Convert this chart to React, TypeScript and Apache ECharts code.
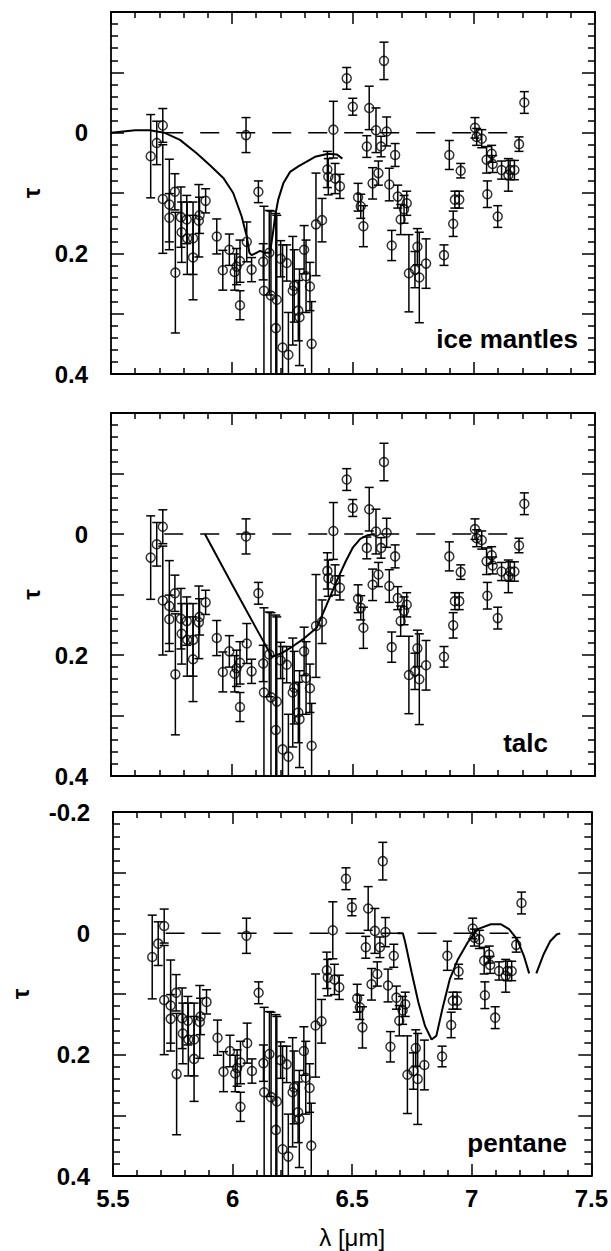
import React, { useEffect, useRef } from 'react';
import * as echarts from 'echarts';

// ---- observed optical depth points (same data set in every panel) ----
const ptX = [
  5.664, 5.689, 5.714, 5.714, 5.741, 5.741, 5.764, 5.766, 5.789, 5.792,
  5.813, 5.815, 5.839, 5.839, 5.863, 5.866, 5.891, 5.937, 5.962, 5.989,
  6.011, 6.019, 6.033, 6.033, 6.058, 6.061, 6.081, 6.109, 6.129, 6.132,
  6.154, 6.161, 6.181, 6.185, 6.201, 6.209, 6.226, 6.233, 6.251, 6.257,
  6.274, 6.279, 6.298, 6.306, 6.322, 6.329, 6.347, 6.372, 6.394, 6.398,
  6.419, 6.426, 6.446, 6.474, 6.499, 6.521, 6.532, 6.543, 6.557, 6.567,
  6.581, 6.595, 6.605, 6.616, 6.628, 6.639, 6.650, 6.660, 6.674, 6.685,
  6.697, 6.711, 6.722, 6.731, 6.756, 6.766, 6.774, 6.802, 6.876, 6.898,
  6.914, 6.921, 6.939, 6.945, 7.004, 7.011, 7.032, 7.052, 7.055, 7.073,
  7.077, 7.098, 7.114, 7.142, 7.149, 7.167, 7.186, 7.208,
];
const ptY = [
  0.039, 0.017, -0.012, 0.110, 0.119, 0.141, 0.098, 0.232, 0.140, 0.165,
  0.144, 0.175, 0.175, 0.207, 0.146, 0.137, 0.113, 0.172, 0.228, 0.194,
  0.231, 0.222, 0.213, 0.286, 0.004, 0.181, 0.227, 0.098, 0.214, 0.262,
  0.199, 0.270, 0.324, 0.277, 0.209, 0.356, 0.216, 0.368, 0.262, 0.254,
  0.295, 0.306, 0.194, 0.238, 0.255, 0.350, 0.152, 0.145, 0.061, 0.073,
  -0.005, 0.076, 0.089, -0.090, -0.043, 0.107, 0.122, 0.155, 0.023, -0.041,
  0.084, -0.004, 0.067, 0.023, -0.119, -0.002, 0.086, 0.187, 0.037, 0.106,
  0.144, 0.127, 0.117, 0.233, 0.227, 0.189, 0.240, 0.217, 0.203, 0.037,
  0.151, 0.111, 0.111, 0.063, -0.008, 0.007, 0.010, 0.045, 0.102, 0.035,
  0.052, 0.139, 0.062, 0.070, 0.062, 0.062, 0.019, -0.050,
];
const ptErr = [
  0.069, 0.036, 0.028, 0.090, 0.075, 0.040, 0.030, 0.100, 0.050, 0.050,
  0.040, 0.060, 0.060, 0.070, 0.060, 0.030, 0.020, 0.029, 0.033, 0.026,
  0.030, 0.030, 0.035, 0.024, 0.029, 0.033, 0.020, 0.018, 0.030, 0.140,
  0.070, 0.140, 0.190, 0.140, 0.030, 0.170, 0.030, 0.070, 0.090, 0.060,
  0.050, 0.080, 0.040, 0.060, 0.040, 0.070, 0.085, 0.036, 0.030, 0.030,
  0.047, 0.025, 0.020, 0.018, 0.014, 0.023, 0.020, 0.034, 0.018, 0.036,
  0.026, 0.037, 0.020, 0.017, 0.031, 0.024, 0.027, 0.025, 0.019, 0.019,
  0.025, 0.023, 0.020, 0.064, 0.030, 0.030, 0.075, 0.041, 0.017, 0.024,
  0.021, 0.014, 0.014, 0.012, 0.017, 0.014, 0.015, 0.022, 0.022, 0.014,
  0.014, 0.018, 0.015, 0.027, 0.016, 0.016, 0.012, 0.018,
];

// ---- model curves ----
const iceX = [
  5.50, 5.55, 5.60, 5.66, 5.72, 5.785, 5.854, 5.909, 5.964, 6.005, 6.040, 6.061,
  6.072, 6.081, 6.102, 6.116, 6.136, 6.157, 6.171, 6.178, 6.191, 6.212, 6.240,
  6.274, 6.343, 6.398, 6.433, 6.456,
];
const iceY = [
  0.000, -0.002, -0.004, -0.004, 0.000, 0.012, 0.034, 0.054, 0.075, 0.100, 0.139, 0.172,
  0.199, 0.203, 0.199, 0.196, 0.199, 0.199, 0.161, 0.139, 0.111, 0.084, 0.065,
  0.056, 0.040, 0.035, 0.036, 0.043,
];
const talcX = [5.888, 6.00, 6.10, 6.165, 6.20, 6.25, 6.30, 6.35, 6.39, 6.43, 6.47, 6.50, 6.53, 6.56, 6.59];
const talcY = [0.000, 0.083, 0.156, 0.203, 0.198, 0.186, 0.172, 0.155, 0.118, 0.080, 0.045, 0.022, 0.008, 0.002, 0.000];
const pentX = [
  6.690, 6.712, 6.722, 6.749, 6.777, 6.805, 6.832, 6.852, 6.880, 6.908, 6.942, 6.983,
  7.025, 7.080, 7.121, 7.156, 7.190, 7.218, 7.240, 7.255, 7.270, 7.300, 7.328, 7.355, 7.370,
];
const pentY: (number | null)[] = [
  0.000, 0.000, 0.015, 0.065, 0.114, 0.153, 0.175, 0.169, 0.120, 0.076, 0.043, 0.015,
  -0.007, -0.015, -0.015, -0.007, 0.010, 0.037, 0.066, null, 0.066, 0.035, 0.013, 0.002, 0.000,
];

// ---- reference (tau = 0) dashed line ----
const zeroX = [5.72, 7.18];
const zeroY = [0, 0];

const panelNames = ['ice mantles', 'talc', 'pentane'];
const xRange = [5.5, 7.5];
const yRange = [-0.2, 0.4];

const FONT = "'Liberation Sans', Arial, Helvetica, sans-serif";
const GRIDS = [
  { top: 12, height: 362 },
  { top: 413, height: 363 },
  { top: 812, height: 364 },
];
const NAME_POS = [
  { x: 578, y: 339 },
  { x: 548, y: 743 },
  { x: 567, y: 1143 },
];

function buildOption() {
  const models = [
    { x: iceX, y: iceY },
    { x: talcX, y: talcY },
    { x: pentX, y: pentY },
  ];
  const pts = ptX.map((x, i) => [x, ptY[i], ptErr[i]]);
  const grid: any[] = [];
  const xAxis: any[] = [];
  const yAxis: any[] = [];
  const series: any[] = [];
  const graphic: any[] = [];

  const axisLine = { show: true, onZero: false, lineStyle: { color: '#000', width: 1.8 } };
  const tickStyle = { color: '#000', width: 1.5 };

  GRIDS.forEach((g, k) => {
    grid.push({ left: 111, width: 484, top: g.top, height: g.height });
    (['bottom', 'top'] as const).forEach((pos) => {
      const lab = k === 2 && pos === 'bottom';
      xAxis.push({
        type: 'value', gridIndex: k, position: pos,
        min: xRange[0], max: xRange[1], interval: 0.5,
        axisLine,
        axisTick: { show: true, inside: true, length: 12, lineStyle: tickStyle },
        minorTick: { show: true, splitNumber: 5, length: 6, lineStyle: tickStyle },
        splitLine: { show: false }, minorSplitLine: { show: false },
        axisLabel: {
          show: lab, margin: 10, fontSize: 24, fontWeight: 'bold', color: '#000', fontFamily: FONT,
          showMinLabel: true, showMaxLabel: true,
          formatter: (v: number) => String(Math.round(v * 10) / 10),
        },
        name: lab ? 'λ [μm]' : '', nameLocation: 'middle', nameGap: 49,
        nameTextStyle: { fontSize: 24, color: '#000', fontFamily: FONT },
      });
    });
    (['left', 'right'] as const).forEach((pos) => {
      const lab = pos === 'left';
      yAxis.push({
        type: 'value', gridIndex: k, position: pos, inverse: true,
        min: yRange[0], max: yRange[1], interval: 0.1,
        axisLine,
        axisTick: { show: true, inside: true, length: 13, lineStyle: tickStyle },
        minorTick: { show: true, splitNumber: 5, length: 7, lineStyle: tickStyle },
        splitLine: { show: false }, minorSplitLine: { show: false },
        axisLabel: {
          show: lab, margin: 23, fontSize: 24, fontWeight: 'bold', color: '#000', fontFamily: FONT,
          showMinLabel: true, showMaxLabel: true,
          formatter: (v: number) => {
            const t = Math.round(v * 10);
            if (t % 2 !== 0) return '';
            if (t === -2 && k < 2) return '';
            return String(t / 10);
          },
        },
        name: lab ? 'τ' : '', nameLocation: 'middle', nameRotate: 90, nameGap: k === 2 ? 81 : 67,
        nameTextStyle: { fontSize: 24, fontWeight: 'bold', color: '#000', fontFamily: FONT },
      });
    });

    const xi = 2 * k;
    const yi = 2 * k;
    series.push({
      type: 'line', xAxisIndex: xi, yAxisIndex: yi, silent: true,
      data: zeroX.map((x, i) => [x, zeroY[i]]), showSymbol: false,
      lineStyle: { color: '#000', width: 1.5, type: [19, 17] },
    });
    series.push({
      type: 'line', xAxisIndex: xi, yAxisIndex: yi, silent: true,
      data: models[k].x.map((x, i) => [x, models[k].y[i] === null ? '-' : models[k].y[i]]),
      showSymbol: false, connectNulls: false,
      lineStyle: { color: '#000', width: 2 },
    });
    series.push({
      type: 'custom', xAxisIndex: xi, yAxisIndex: yi, clip: true, silent: true,
      data: pts,
      renderItem: (params: any, api: any) => {
        const x = api.value(0), y = api.value(1), e = api.value(2);
        const a = api.coord([x, y - e]);
        const b = api.coord([x, y + e]);
        const cw = 4.5;
        const st = { stroke: '#000', lineWidth: 1.5, fill: 'none' };
        return {
          type: 'group',
          children: [
            { type: 'line', shape: { x1: a[0], y1: a[1], x2: b[0], y2: b[1] }, style: st },
            { type: 'line', shape: { x1: a[0] - cw, y1: a[1], x2: a[0] + cw, y2: a[1] }, style: st },
            { type: 'line', shape: { x1: b[0] - cw, y1: b[1], x2: b[0] + cw, y2: b[1] }, style: st },
          ],
        };
      },
    });
    series.push({
      type: 'scatter', xAxisIndex: xi, yAxisIndex: yi, silent: true,
      data: pts.map((p) => [p[0], p[1]]),
      symbol: 'circle', symbolSize: 9,
      itemStyle: { color: 'rgba(0,0,0,0)', borderColor: '#000', borderWidth: 1.5 },
    });

    graphic.push({
      type: 'text', x: NAME_POS[k].x, y: NAME_POS[k].y, silent: true,
      style: {
        text: panelNames[k], fill: '#000', font: `bold 26px ${FONT}`,
        align: 'right', verticalAlign: 'middle',
      },
    });
  });

  return { animation: false, backgroundColor: '#fff', grid, xAxis, yAxis, series, graphic };
}

export default function App() {
  const ref = useRef<HTMLDivElement>(null);
  useEffect(() => {
    if (!ref.current) return;
    const chart = echarts.init(ref.current, undefined, { renderer: 'svg' });
    chart.setOption(buildOption() as any);
    return () => chart.dispose();
  }, []);
  return (
    <div
      ref={ref}
      style={{ position: 'absolute', left: 0, top: 0, width: 611, height: 1251, background: '#fff' }}
    />
  );
}
